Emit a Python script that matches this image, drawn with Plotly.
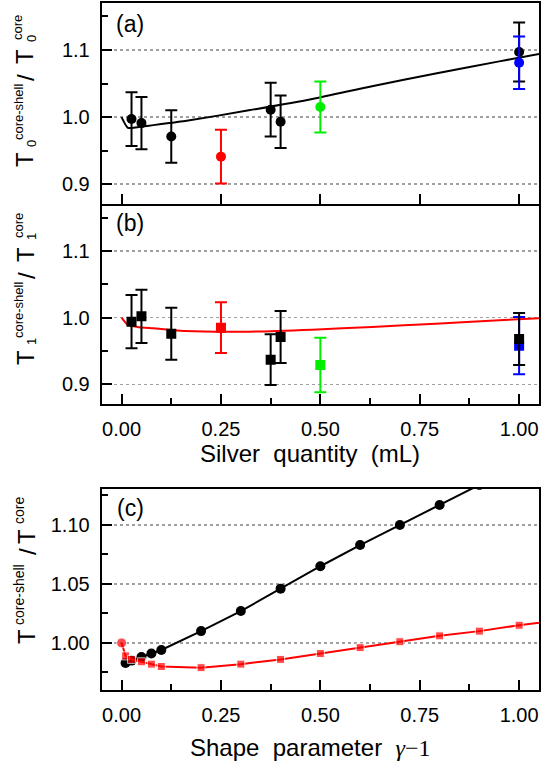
import plotly.graph_objects as go

W, H = 541, 766

# ---------------- data ----------------
# panel (a): T0 ratio vs silver quantity
a_black_x = [0.025, 0.05, 0.125, 0.375, 0.4, 1.0]
a_black_y = [0.997, 0.991, 0.971, 1.011, 0.993, 1.097]
a_black_err = [0.040, 0.039, 0.039, 0.040, 0.039, 0.044]
a_red_x, a_red_y, a_red_err = [0.25], [0.941], [0.040]
a_green_x, a_green_y, a_green_err = [0.5], [1.015], [0.038]
a_blue_x, a_blue_y, a_blue_err = [1.0], [1.081], [0.039]
a_line_x = [0, 0.016, 0.04, 0.08, 0.12, 0.16, 0.32, 0.48, 0.63, 0.79, 0.95, 1.05]
a_line_y = [1.000, 0.984, 0.985, 0.988, 0.991, 0.994, 1.010, 1.027, 1.046, 1.065, 1.083, 1.094]

# panel (b): T1 ratio vs silver quantity
b_black_x = [0.025, 0.05, 0.125, 0.375, 0.4, 1.0]
b_black_y = [0.994, 1.002, 0.976, 0.937, 0.971, 0.968]
b_black_err = [0.040, 0.040, 0.039, 0.038, 0.039, 0.039]
b_red_x, b_red_y, b_red_err = [0.25], [0.985], [0.038]
b_green_x, b_green_y, b_green_err = [0.5], [0.929], [0.041]
b_blue_x, b_blue_y, b_blue_err = [1.0], [0.958], [0.043]
b_line_x = [0, 0.016, 0.04, 0.08, 0.12, 0.16, 0.32, 0.48, 0.63, 0.79, 0.95, 1.05]
b_line_y = [1.000, 0.989, 0.986, 0.984, 0.982, 0.980, 0.979, 0.982, 0.986, 0.991, 0.996, 0.999]

# panel (c): ratio vs shape parameter
c_black_x = [0.01, 0.025, 0.05, 0.075, 0.1, 0.2, 0.3, 0.4, 0.5, 0.6, 0.7, 0.8, 0.9, 1.0]
c_black_y = [0.983, 0.985, 0.988, 0.991, 0.994, 1.010, 1.027, 1.046, 1.065, 1.083, 1.100, 1.117, 1.134, 1.151]
c_red_x = [0, 0.01, 0.025, 0.05, 0.075, 0.1, 0.2, 0.3, 0.4, 0.5, 0.6, 0.7, 0.8, 0.9, 1.0, 1.1]
c_red_y = [1.000, 0.989, 0.986, 0.984, 0.982, 0.980, 0.979, 0.982, 0.986, 0.991, 0.996, 1.001, 1.006, 1.010, 1.015, 1.019]

x_ticks = [0, 0.25, 0.5, 0.75, 1.0]
x_ticktext = ["0.00", "0.25", "0.50", "0.75", "1.00"]
x_minor = [0.125, 0.375, 0.625, 0.875]
ab_ticks = [0.9, 1.0, 1.1]
ab_ticktext = ["0.9", "1.0", "1.1"]
ab_minor = [0.95, 1.05, 1.15]
c_ticks = [1.00, 1.05, 1.10]
c_ticktext = ["1.00", "1.05", "1.10"]
c_minor = [0.975, 1.025, 1.075, 1.125]

# ---------------- helpers ----------------
def fx(p):
    return p / W

def fy(p):
    return 1 - p / H

RED, GREEN, BLUE, BLACK = "#ff0000", "#00ee00", "#0000ff", "#000000"
FONT = "Arial, Liberation Sans, sans-serif"

fig = go.Figure()

def pts(x, y, err, color, symbol, size, xa, ya):
    fig.add_trace(go.Scatter(
        x=x, y=y, mode="markers", xaxis=xa, yaxis=ya,
        marker=dict(color=color, symbol=symbol, size=size, line=dict(width=0)),
        error_y=dict(type="data", array=err, visible=True, color=color, thickness=2, width=6),
        showlegend=False))

def line(x, y, color, xa, ya, width=2):
    fig.add_trace(go.Scatter(
        x=x, y=y, mode="lines", xaxis=xa, yaxis=ya,
        line=dict(color=color, width=width, shape="spline", smoothing=0.6),
        showlegend=False))

# panel (a)
line(a_line_x, a_line_y, BLACK, "x", "y")
pts(a_red_x, a_red_y, a_red_err, RED, "circle", 10, "x", "y")
pts(a_green_x, a_green_y, a_green_err, GREEN, "circle", 10, "x", "y")
pts(a_black_x, a_black_y, a_black_err, BLACK, "circle", 10, "x", "y")
pts(a_blue_x, a_blue_y, a_blue_err, BLUE, "circle", 10, "x", "y")

# panel (b)
line(b_line_x, b_line_y, RED, "x2", "y2")
pts(b_red_x, b_red_y, b_red_err, RED, "square", 10, "x2", "y2")
pts(b_green_x, b_green_y, b_green_err, GREEN, "square", 10, "x2", "y2")
pts(b_blue_x, b_blue_y, b_blue_err, BLUE, "square", 10, "x2", "y2")
pts(b_black_x, b_black_y, b_black_err, BLACK, "square", 10, "x2", "y2")

# panel (c)
fig.add_trace(go.Scatter(
    x=c_black_x, y=c_black_y, mode="lines+markers", xaxis="x3", yaxis="y3",
    line=dict(color=BLACK, width=2), marker=dict(color=BLACK, symbol="circle", size=10),
    showlegend=False))
fig.add_trace(go.Scatter(
    x=c_red_x, y=c_red_y, mode="lines+markers", xaxis="x3", yaxis="y3",
    line=dict(color=RED, width=2),
    marker=dict(color=RED, size=[10] + [8] * (len(c_red_x) - 1),
                symbol=["circle"] + ["square"] * (len(c_red_x) - 1)),
    showlegend=False))

# ---------------- axes ----------------
X_DOM = [fx(101.7), fx(539)]
A_DOM = [fy(204.3), fy(3)]
B_DOM = [fy(404.3), fy(204.3)]
C_DOM = [fy(689.5), fy(489)]

tickfont = dict(family=FONT, size=20, color="black")

def xaxis(anchor, labels, minor, mirror=True):
    d = dict(domain=X_DOM, anchor=anchor, range=[-0.05, 1.05],
             tickmode="array", tickvals=x_ticks, ticktext=x_ticktext,
             showticklabels=labels, ticks="inside", ticklen=10, tickwidth=2, tickcolor="black",
             showline=True, linewidth=2, linecolor="black", mirror=mirror,
             showgrid=False, zeroline=False, tickfont=tickfont, ticklabelstandoff=6)
    if minor:
        d["minor"] = dict(tickmode="array", tickvals=x_minor, ticks="inside", ticklen=6,
                          tickwidth=2, tickcolor="black", showgrid=False)
    return d

def yaxis(anchor, dom, rng, tv, tt, mv):
    return dict(domain=dom, anchor=anchor, range=rng,
                tickmode="array", tickvals=tv, ticktext=tt,
                ticks="inside", ticklen=10, tickwidth=2, tickcolor="black",
                minor=dict(tickmode="array", tickvals=mv, ticks="inside", ticklen=6,
                           tickwidth=2, tickcolor="black", showgrid=False),
                showline=True, linewidth=2, linecolor="black", mirror=True,
                showgrid=True, gridcolor="#a0a0a0", griddash="dot", gridwidth=1.5,
                zeroline=False, tickfont=tickfont, ticklabelstandoff=6)

fig.update_layout(
    width=W, height=H, margin=dict(l=0, r=0, t=0, b=0),
    paper_bgcolor="white", plot_bgcolor="white", showlegend=False,
    font=dict(family=FONT, color="black"),
    xaxis=xaxis("y", False, False),
    xaxis2=xaxis("y2", True, True, mirror=False),
    xaxis3=xaxis("y3", True, True),
    yaxis=yaxis("x", A_DOM, [0.87, 1.17], ab_ticks, ab_ticktext, ab_minor),
    yaxis2=yaxis("x2", B_DOM, [0.87, 1.17], ab_ticks, ab_ticktext, ab_minor),
    yaxis3=yaxis("x3", C_DOM, [0.9605, 1.1305], c_ticks, c_ticktext, c_minor),
)

ann = []

def text(x, y, s, size, angle=0):
    ann.append(dict(x=fx(x), y=fy(y), xref="paper", yref="paper", text=s,
                    showarrow=False, xanchor="center", yanchor="middle",
                    textangle=angle, font=dict(family=FONT, size=size, color="black")))

# panel labels
text(130, 24, "(a)", 23)
text(130, 223, "(b)", 23)
text(130, 508, "(c)", 23)

# x titles
text(310, 453, "Silver&nbsp; quantity&nbsp; (mL)", 24)
text(310, 747, "Shape&nbsp; parameter&nbsp; <span style=\"font-family:'Liberation Serif', 'Times New Roman', serif\"><i>γ</i>−1</span>", 24)

# y titles (rotated fragments)
def ytitle(dy, sub):
    text(25, 160 + dy, "T", 24, -90)
    if sub is not None:
        text(31, 143 + dy, sub, 13, -90)
    text(18, 112 + dy, "core-shell", 13, -90)
    text(26, 78 + dy, "/", 24, -90)
    text(25, 57 + dy, "T", 24, -90)
    if sub is not None:
        text(31, 38 + dy, sub, 13, -90)
    text(18, 28 + dy, "core", 13, -90)

ytitle(0, "0")
ytitle(198, "1")

# panel (c) y title
text(26, 637, "T", 24, -90)
text(19, 595, "core-shell", 14, -90)
text(27, 552, "/", 24, -90)
text(26, 537, "T", 24, -90)
text(19, 511, "core", 14, -90)

fig.update_layout(annotations=ann)
fig.write_html("out.html", config={"displayModeBar": False, "staticPlot": True},
               post_script="document.body.style.margin='0';document.body.style.overflow='hidden';")
